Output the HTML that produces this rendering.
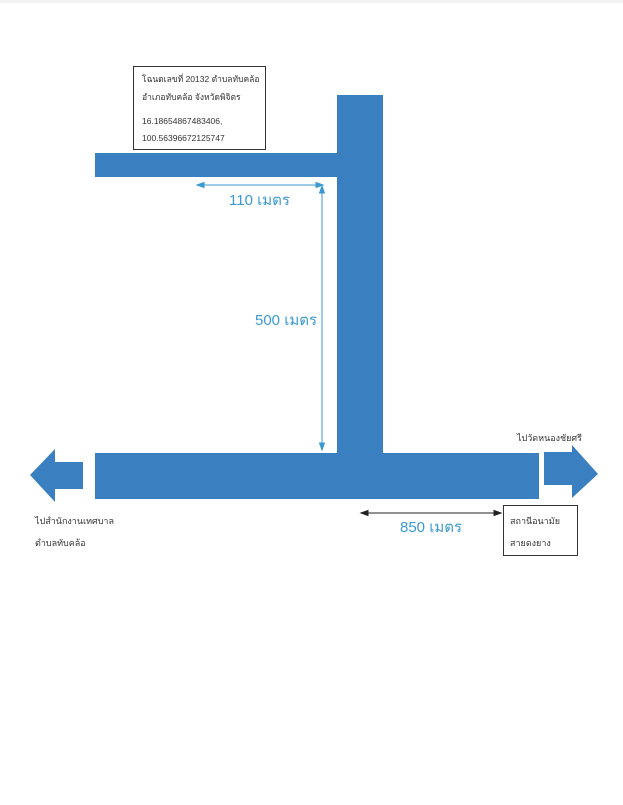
<!DOCTYPE html>
<html><head><meta charset="utf-8"><style>
body{margin:0;background:#fff;}
svg text{font-family:"Liberation Sans","Noto Sans CJK SC",sans-serif;}
</style></head><body>
<svg width="623" height="800" viewBox="0 0 623 800" xmlns="http://www.w3.org/2000/svg">
<rect width="623" height="800" fill="#fff"/>
<rect x="0" y="0" width="623" height="3" fill="#f3f3f3"/>
<g fill="#3a7fc0">
<rect x="95" y="153" width="245" height="24"/>
<rect x="337" y="95" width="46" height="360"/>
<rect x="95" y="453" width="444" height="46"/>
<polygon points="30,475 55,449 55,462 83,462 83,489 55,489 55,502"/>
<polygon points="598,474 572,445 572,452 544,452 544,485 572,485 572,498"/>
</g>
<rect x="133.5" y="66.5" width="132" height="83" fill="#fff" stroke="#333" stroke-width="1"/>
<text x="142" y="82" font-size="8.5" fill="#333">โฉนดเลขที่ 20132 ตำบลทับคล้อ</text>
<text x="142" y="100" font-size="8.5" fill="#333">อำเภอทับคล้อ จังหวัดพิจิตร</text>
<text x="142" y="124" font-size="8.5" fill="#333">16.18654867483406,</text>
<text x="142" y="141" font-size="8.5" fill="#333">100.56396672125747</text>
<g stroke="#3b9ad0" stroke-width="1" fill="#3b9ad0">
<line x1="199" y1="185" x2="321" y2="185"/>
<polygon points="197,185 204,182.5 204,187.5"/>
<polygon points="323,185 316,182.5 316,187.5"/>
<line x1="322" y1="188" x2="322" y2="446"/>
<polygon points="322,186 319.5,193 324.5,193"/>
<polygon points="322,450 319.5,443 324.5,443"/>
</g>
<text x="229" y="205" font-size="15" fill="#3b9ad0">110 เมตร</text>
<text x="255" y="325" font-size="15" fill="#3b9ad0">500 เมตร</text>
<g stroke="#222" stroke-width="1" fill="#222">
<line x1="364" y1="513" x2="498" y2="513"/>
<polygon points="361,513 368,510.5 368,515.5"/>
<polygon points="501,513 494,510.5 494,515.5"/>
</g>
<text x="400" y="532" font-size="15" fill="#3b9ad0">850 เมตร</text>
<rect x="503.5" y="505.5" width="74" height="50" fill="#fff" stroke="#333" stroke-width="1"/>
<text x="510" y="524" font-size="9" fill="#333">สถานีอนามัย</text>
<text x="510" y="546" font-size="9" fill="#333">สายดงยาง</text>
<text x="517" y="441" font-size="9" fill="#333">ไปวัดหนองชัยศรี</text>
<text x="35" y="524" font-size="9" fill="#333">ไปสำนักงานเทศบาล</text>
<text x="35" y="546" font-size="9" fill="#333">ตำบลทับคล้อ</text>
</svg>
</body></html>
